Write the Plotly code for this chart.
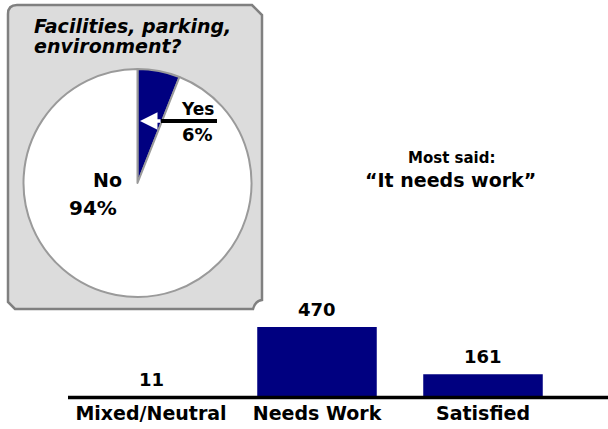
import plotly.graph_objects as go

# Survey question: any comments on facilities, parking, environment?
pie_labels = ["Yes", "No"]
pie_values = [6, 94]

# Breakdown of the comments
categories = ["Mixed/Neutral", "Needs Work", "Satisfied"]
counts = [11, 470, 161]

W, H = 608, 429
NAVY = "#000080"
FONT = "DejaVu Sans"


def px(x):
    return x / W


def py(y):
    return 1 - y / H


def path(points):
    # points given in pixel space -> SVG path in paper space
    out = []
    for cmd, *xy in points:
        if cmd == "Z":
            out.append("Z")
        elif cmd == "Q":
            out.append(f"Q {px(xy[0]):.5f},{py(xy[1]):.5f} {px(xy[2]):.5f},{py(xy[3]):.5f}")
        else:
            out.append(f"{cmd} {px(xy[0]):.5f},{py(xy[1]):.5f}")
    return " ".join(out)


fig = go.Figure()

# Pie of yes/no answers
fig.add_trace(go.Pie(
    labels=pie_labels,
    values=pie_values,
    sort=False,
    direction="clockwise",
    rotation=0,
    textinfo="none",
    hoverinfo="label+percent",
    marker=dict(colors=[NAVY, "white"], line=dict(color="#9a9a9a", width=2)),
    domain=dict(x=[px(23.5), px(251.5)], y=[py(297), py(69)]),
    showlegend=False,
))

# Bars of comment counts
fig.add_trace(go.Bar(
    x=categories,
    y=counts,
    marker=dict(color=NAVY, line=dict(width=0)),
    xaxis="x",
    yaxis="y",
    showlegend=False,
))

# Grey rounded panel behind the pie
panel = path([
    ("M", 8, 14), ("Q", 8, 5, 17, 5), ("L", 252, 5), ("L", 262, 15),
    ("L", 262, 300), ("Q", 255, 301, 253, 309), ("L", 15, 309),
    ("L", 8, 302), ("Z",),
])
shapes = [
    dict(type="path", path=panel, xref="paper", yref="paper",
         fillcolor="#dcdcdc", line=dict(color="#808080", width=2.5), layer="below"),
    # leader line from "Yes" label into the slice
    dict(type="line", xref="paper", yref="paper",
         x0=px(161), x1=px(217), y0=py(121), y1=py(121),
         line=dict(color="black", width=4), layer="above"),
    # baseline under the bars
    dict(type="line", xref="paper", yref="paper",
         x0=px(68), x1=1.0, y0=py(397.5), y1=py(397.5),
         line=dict(color="black", width=3.5), layer="above"),
]

annotations = []


def label(text, x, y, size, xanchor="center", style="normal"):
    annotations.append(dict(
        text=text, x=px(x), y=py(y), xref="paper", yref="paper",
        xanchor=xanchor, yanchor="middle", showarrow=False,
        font=dict(family=FONT, size=size, color="black", weight="bold", style=style),
    ))


# Panel title
label("Facilities, parking,", 32, 26, 19, xanchor="left", style="italic")
label("environment?", 32, 46, 19, xanchor="left", style="italic")

# Pie labels
label(pie_labels[0], 197, 109, 17)
label(f"{pie_values[0]}%", 197, 134, 18)
label(pie_labels[1], 107, 180, 19)
label(f"{pie_values[1]}%", 93, 208, 20)

# White arrow tip inside the slice
annotations.append(dict(
    x=px(140), y=py(121), xref="paper", yref="paper",
    ax=22, ay=0, text="", showarrow=True,
    arrowhead=2, arrowsize=1, arrowwidth=3.5, arrowcolor="white",
))

# Headline
label("Most said:", 451, 158, 15)
label("\u201cIt needs work\u201d", 450, 180, 19)

# Value labels above each bar
for cat, val in zip(categories, counts):
    annotations.append(dict(
        text=str(val), x=cat, y=val, xref="x", yref="y",
        xanchor="center", yanchor="middle", yshift=18, showarrow=False,
        font=dict(family=FONT, size=18, color="black", weight="bold"),
    ))

fig.update_layout(
    width=W, height=H,
    margin=dict(l=0, r=0, t=0, b=0),
    paper_bgcolor="white",
    plot_bgcolor="rgba(0,0,0,0)",
    bargap=0.28,
    shapes=shapes,
    annotations=annotations,
    xaxis=dict(
        domain=[px(68), 1.0],
        range=[-0.5, 2.753],
        showline=False,
        showgrid=False, zeroline=False, ticks="",
        tickfont=dict(family=FONT, size=19, color="black", weight="bold"),
        ticklabelstandoff=1,
        fixedrange=True,
    ),
    yaxis=dict(
        domain=[py(399), py(307.1)],
        range=[0, 600],
        visible=False, showgrid=False, zeroline=False,
        fixedrange=True,
    ),
)

fig.write_html("out.html")
